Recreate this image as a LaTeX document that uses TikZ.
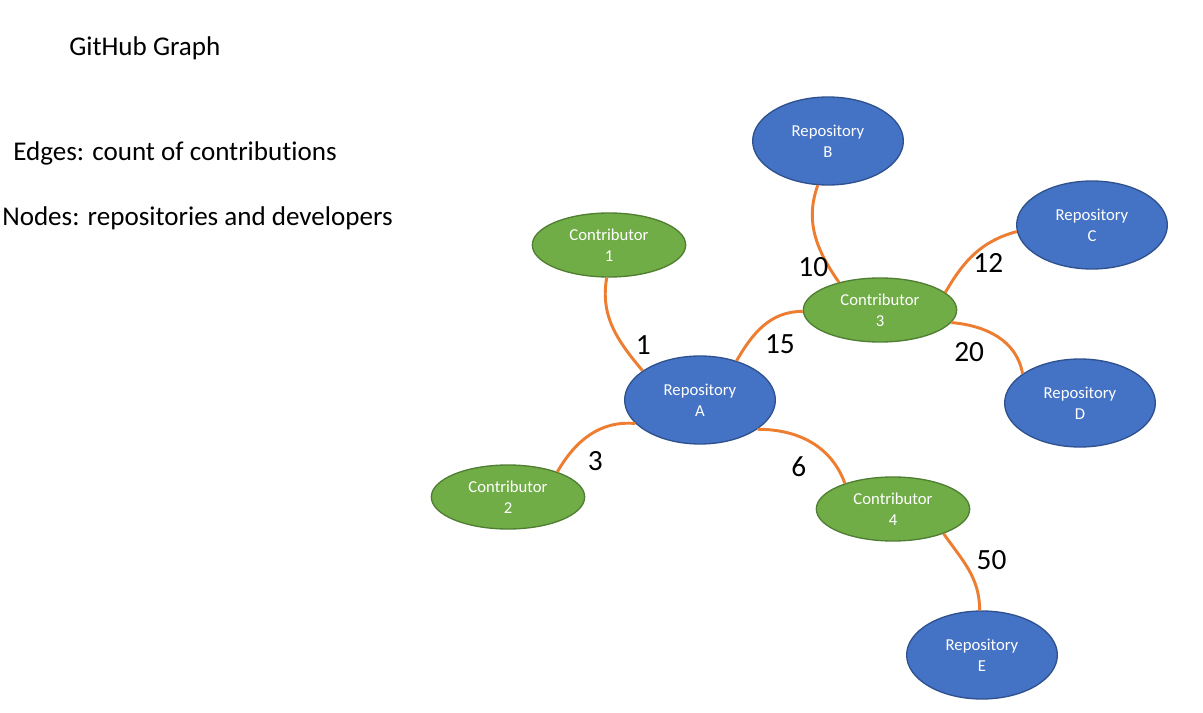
\documentclass[tikz,border=0pt]{standalone}
\usepackage{fontspec}
\setmainfont{Carlito}[Ligatures=CommonOff]
\usepackage{tikz}
\usetikzlibrary{shapes.geometric}

\definecolor{repoblue}{HTML}{4472C4}
\definecolor{repoline}{HTML}{2F528F}
\definecolor{contribgreen}{HTML}{70AD47}
\definecolor{contribline}{HTML}{507E32}
\definecolor{edgeorange}{HTML}{ED7D31}

\begin{document}
\begin{tikzpicture}[x=0.75pt,y=0.75pt,
	repo node/.style={ellipse,draw=repoline,fill=repoblue,line width=1pt,text=white,
		minimum width=113pt,minimum height=66pt,inner sep=0pt,align=center,
		font=\fontsize{12.5}{15.5}\selectfont},
	contrib node/.style={ellipse,draw=contribline,fill=contribgreen,line width=1pt,text=white,
		minimum width=115pt,minimum height=48pt,inner sep=0pt,align=center,
		font=\fontsize{12.5}{15.5}\selectfont},
	note/.style={anchor=west,inner sep=0pt,font=\fontsize{20.3}{24}\selectfont}]
	
	\useasboundingbox (0,0) rectangle (1203,-713);
	
	\node[note] (title) at (69,-48) {GitHub Graph};
	\node[note] (edgesnote) at (13,-153) {Edges: count of contributions};
	\node[note] (nodesnote) at (2,-218) {Nodes: repositories and developers};
	
	\node[repo node] (ra) at (700,-400) {Repository\\A};
	\node[repo node] (rb) at (828,-141) {Repository\\B};
	\node[repo node] (rc) at (1092,-225) {Repository\\C};
	\node[repo node] (rd) at (1080,-403) {Repository\\D};
	\node[repo node] (re) at (982,-655) {Repository\\E};
	
	\node[contrib node] (c1) at (609,-245) {Contributor\\1};
	\node[contrib node] (c2) at (508,-497) {Contributor\\2};
	\node[contrib node] (c3) at (880,-310) {Contributor\\3};
	\node[contrib node] (c4) at (893,-509) {Contributor\\4};
	
	\path[draw=edgeorange,line width=2.2pt,every node/.style={font=\fontsize{22}{26}\selectfont,inner sep=3pt}]
	(c1.-94) edge[out=-100,in=130] node[pos=.7,right,xshift=6] {1} (ra.153)
	(ra.47) edge[out=60,in=180] node[pos=.5,below right,xshift=-3,yshift=-3] {15} (c3.181)
	(ra.200) edge[out=175,in=60] node[pos=.6,below right,yshift=-4] {3} (c2.27)
	(ra.-27) edge[out=0,in=110] node[pos=.45,below left,xshift=4,yshift=-9] {6} (c4.152)
	(c3.146) edge[out=125,in=-110] node[pos=.2,left,xshift=5,yshift=-3] {10} (rb.-103)
	(c3.15) edge[out=60,in=195] node[pos=.5,below right,xshift=-5,yshift=4] {12} (rc.185)
	(c3.-10) edge[out=-5,in=100] node[pos=.4,below left,yshift=-4] {20} (rd.153)
	(c4.-26) edge[out=-55,in=90] node[pos=.4,above right,xshift=5,yshift=-9] {50} (re.93);
\end{tikzpicture}
\end{document}
